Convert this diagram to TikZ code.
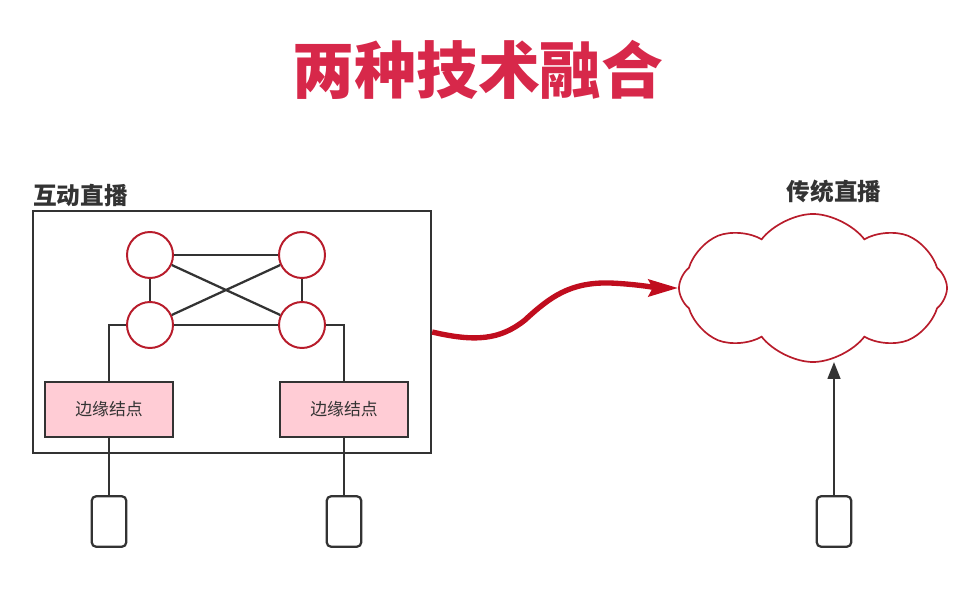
\documentclass[tikz,border=0pt]{standalone}
\usepackage{fontspec}
\newfontfamily\cjk{Noto Sans CJK SC}
\usetikzlibrary{shapes.symbols, arrows.meta}
\definecolor{titlered}{HTML}{D7284A}
\definecolor{ringred}{HTML}{B81C2B}
\definecolor{flowred}{HTML}{C00D1E}
\definecolor{darkline}{HTML}{333333}
\definecolor{edgepink}{HTML}{FFCCD5}
\begin{document}
\begin{tikzpicture}[x=0.025cm, y=-0.025cm,
  ring/.style={circle, draw=ringred, line width=1.4pt, fill=white, minimum size=1.15cm, inner sep=0pt},
  link/.style={draw=darkline, line width=1.6pt},
  edgebox/.style={draw=darkline, line width=1.6pt, fill=edgepink, minimum width=3.2cm, minimum height=1.37cm, inner sep=0pt, text=darkline, font=\cjk\fontsize{12}{14}\selectfont},
  device/.style={draw=darkline, line width=1.6pt, rounded corners=3pt, fill=white, minimum width=0.86cm, minimum height=1.26cm, inner sep=0pt},
  caption/.style={inner sep=0pt, text=darkline, font=\cjk\bfseries\fontsize{16.8}{20}\selectfont}]
\useasboundingbox (0,0) rectangle (963,604);

\node[text=titlered, font=\cjk\bfseries\fontsize{44}{50}\selectfont] (title) at (478,70) {两种技术融合};

% interactive live
\node[draw=darkline, line width=1.6pt, minimum width=9.95cm, minimum height=6.05cm, inner sep=0pt] (live) at (232,332) {};
\node[caption, anchor=base west] (livecap) at (33,205) {互动直播};
\node[ring] (tl) at (150,255) {};
\node[ring] (tr) at (302,255) {};
\node[ring] (bl) at (150,325) {};
\node[ring] (br) at (302,325) {};
\draw[link] (tl) -- (tr);
\draw[link] (bl) -- (br);
\draw[link] (tl) -- (bl);
\draw[link] (tr) -- (br);
\draw[link] (tl) -- (br);
\draw[link] (tr) -- (bl);
\node[edgebox] (edgeL) at (109,409.5) {边缘结点};
\node[edgebox] (edgeR) at (344,409.5) {边缘结点};
\draw[link] (bl.west) -| (edgeL.north);
\draw[link] (br.east) -| (edgeR.north);
\node[device] (devL) at (109,521.5) {};
\node[device] (devR) at (344,521.5) {};
\draw[link] (edgeL) -- (devL);
\draw[link] (edgeR) -- (devR);

% traditional live
\node[cloud, cloud puffs=8, cloud puff arc=105, aspect=1.8, draw=ringred, line width=1.2pt, fill=white, minimum width=6.7cm, minimum height=3.7cm] (trad) at (813,288) {};
\node[caption, anchor=base] (tradcap) at (834,200) {传统直播};
\node[device] (devC) at (834,521.5) {};
\coordinate (cloudfoot) at (834,362);
\draw[link, -{Triangle[length=12pt, width=9pt]}] (devC) -- (cloudfoot);

\draw[flowred, line width=3.8pt, -{Stealth[length=21pt, width=12pt, inset=3pt]}]
  (live.east) .. controls (475,342) and (500,340) .. (525,320)
  .. controls (550,297) and (570,282) .. (610,283)
  .. controls (635,284) and (660,288) .. (trad.west);
\end{tikzpicture}
\end{document}
